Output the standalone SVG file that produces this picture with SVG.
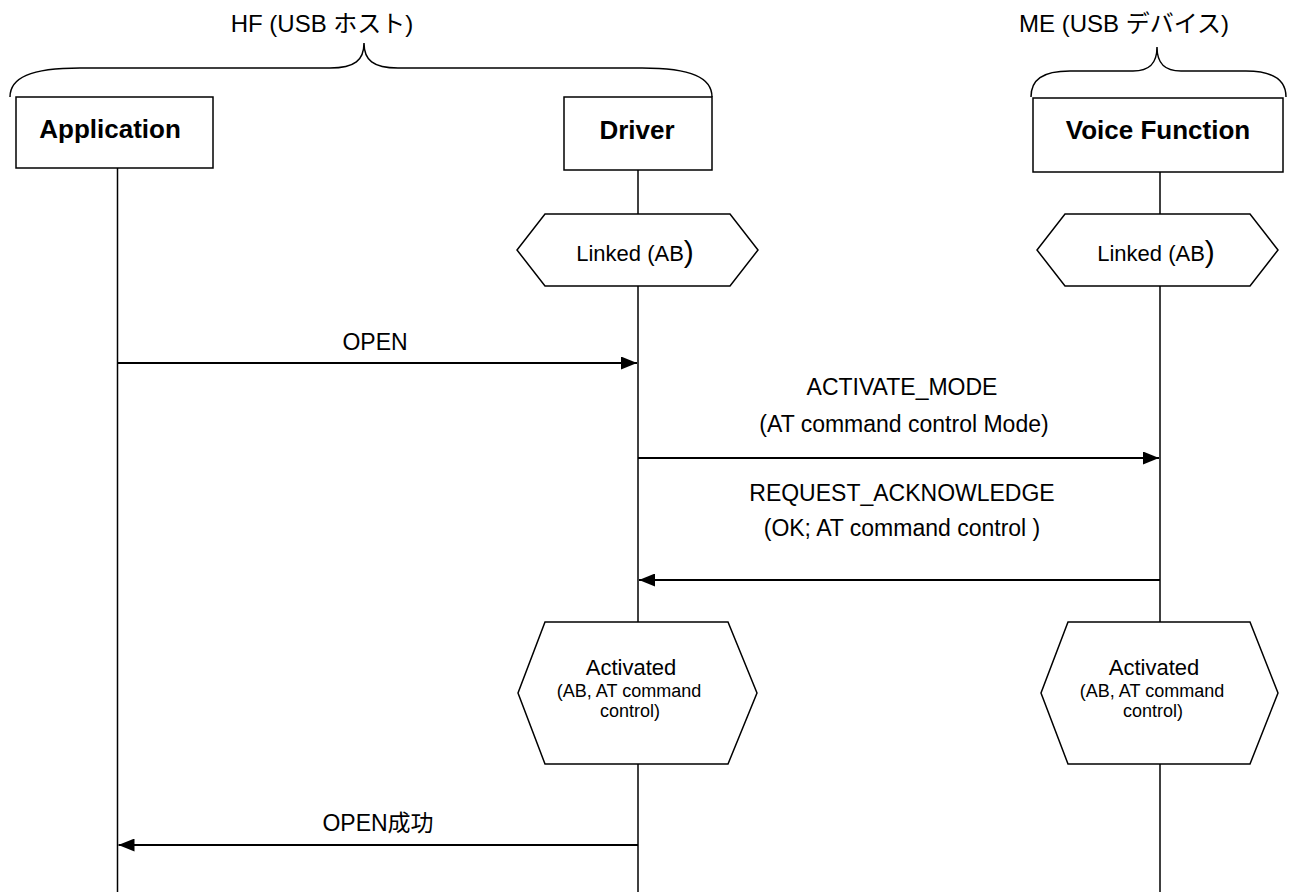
<svg xmlns="http://www.w3.org/2000/svg" width="1289" height="892" viewBox="0 0 1289 892">
<style>
text{font-family:"Liberation Sans",Arial,"Noto Sans CJK JP",sans-serif;fill:#000}
.box{fill:#fff;stroke:#000;stroke-width:1.5}
.life{stroke:#000;stroke-width:1.5}
.brace{fill:none;stroke:#000;stroke-width:1.5}
.msg{stroke:#000;stroke-width:2;fill:none;marker-end:url(#ah)}
.t{font-size:23px;text-anchor:middle}
.b{font-size:26px;font-weight:bold;text-anchor:middle}
.hd{font-size:24px;text-anchor:middle}
.h{font-size:22px;text-anchor:middle}
.s{font-size:18px;text-anchor:middle}
</style>
<defs>
<marker id="ah" markerWidth="16" markerHeight="13" refX="16" refY="6.5" orient="auto" markerUnits="userSpaceOnUse">
<path d="M0,0 L16,6.5 L0,13 Z" fill="#000"/>
</marker>
</defs>
<rect width="1289" height="892" fill="#fff"/>
<g id="lifelines">
<line class="life" x1="117.5" y1="168" x2="117.5" y2="892"/>
<line class="life" x1="638" y1="170" x2="638" y2="892"/>
<line class="life" x1="1160" y1="172" x2="1160" y2="892"/>
</g>
<g id="hf-group">
<path class="brace" d="M10,97 C10,78 30,68 80,68 L330,68 C355,68 364,60 364,43 C364,60 373,68 398,68 L642,68 C692,68 712,78 712,97"/>
<text class="hd" x="322" y="32">HF (USB ホスト)</text>
</g>
<g id="me-group">
<path class="brace" d="M1031,97 C1031,80 1042,71 1070,71 L1133,71 C1150,71 1157,63 1157,47 C1157,63 1164,71 1181,71 L1246,71 C1274,71 1286,80 1286,97"/>
<text class="hd" x="1124" y="32" font-size="26">ME (USB デバイス)</text>
</g>
<g id="application">
<rect class="box" x="16" y="97" width="197" height="71"/>
<text class="b" x="110" y="138">Application</text>
</g>
<g id="driver">
<rect class="box" x="564" y="97" width="148" height="73"/>
<text class="b" x="637" y="139">Driver</text>
</g>
<g id="voice-function">
<rect class="box" x="1033" y="98" width="250" height="74"/>
<text class="b" x="1158" y="139">Voice Function</text>
</g>
<g id="driver-linked">
<polygon class="box" points="545,214 730,214 758,250 730,286 545,286 517,250"/>
<text class="h" x="635" y="261">Linked (AB<tspan font-size="30" dy="1">)</tspan></text>
</g>
<g id="voice-linked">
<polygon class="box" points="1065,214 1250,214 1278,250 1250,286 1065,286 1037,250"/>
<text class="h" x="1156" y="261">Linked (AB<tspan font-size="30" dy="1">)</tspan></text>
</g>
<g id="driver-activated">
<polygon class="box" points="545,622 728,622 757,693 728,764 545,764 518,693"/>
<text class="h" x="631" y="675" font-size="23">Activated</text>
<text class="s" x="629" y="697">(AB, AT command</text>
<text class="s" x="630" y="717">control)</text>
</g>
<g id="voice-activated">
<polygon class="box" points="1068,622 1250,622 1278,693 1250,764 1068,764 1041,693"/>
<text class="h" x="1154" y="675" font-size="23">Activated</text>
<text class="s" x="1152" y="697">(AB, AT command</text>
<text class="s" x="1153" y="717">control)</text>
</g>
<g id="connectors">
<line class="msg" x1="117.5" y1="363" x2="637" y2="363"/>
<text class="t" x="375" y="350">OPEN</text>
<line class="msg" x1="638" y1="458" x2="1159" y2="458"/>
<text class="t" x="902" y="395">ACTIVATE_MODE</text>
<text class="t" x="904" y="432">(AT command control Mode)</text>
<line class="msg" x1="1160" y1="580" x2="639" y2="580"/>
<text class="t" x="902" y="501">REQUEST_ACKNOWLEDGE</text>
<text class="t" x="902" y="536">(OK; AT command control )</text>
<line class="msg" x1="638" y1="845" x2="118.5" y2="845"/>
<text class="t" x="378" y="831">OPEN成功</text>
</g>
</svg>
